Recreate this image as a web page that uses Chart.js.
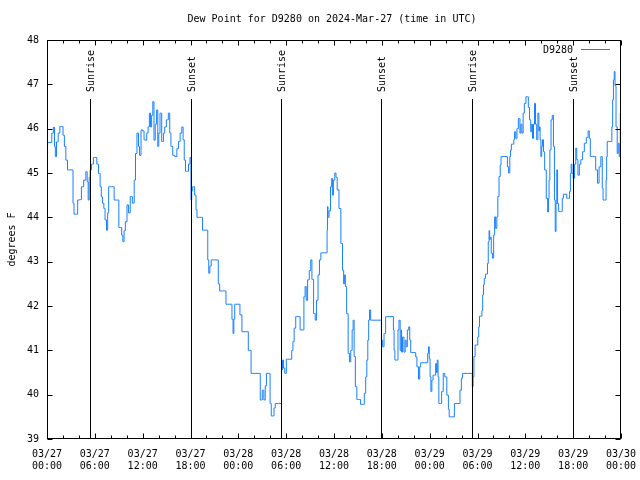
<!DOCTYPE html>
<html>
<head>
<meta charset="utf-8">
<script src="https://cdn.jsdelivr.net/npm/chart.js@4.4.1/dist/chart.umd.min.js"></script>
<style>
  html, body { margin: 0; padding: 0; background: #fff; }
  canvas { display: block; }
</style>
</head>
<body>
<canvas id="dewChart" width="640" height="480"></canvas>
<script>
// Horas desde 03/27 00:00 UTC
const hours = [
  0.0, 0.5, 0.7, 0.88, 1.0, 1.09, 1.3, 1.5, 1.72, 1.92, 2.1, 2.26, 2.47, 2.68, 3.18, 3.35, 3.43, 3.72, 3.97, 4.2,
  4.43, 4.77, 4.98, 5.1, 5.23, 5.35, 5.48, 5.7, 5.94, 6.15, 6.35, 6.56, 6.77, 6.85, 7.06, 7.2, 7.36, 7.57, 7.65, 7.82,
  8.32, 8.53, 8.95, 9.07, 9.28, 9.45, 9.58, 9.75, 9.91, 10.16, 10.3, 10.58, 10.83, 11.04, 11.16, 11.41, 11.55, 11.67, 11.92, 12.1,
  12.25, 12.42, 12.6, 12.76, 12.92, 13.05, 13.2, 13.34, 13.5, 13.65, 13.84, 13.95, 14.09, 14.26, 14.51, 14.7, 14.84, 15.1, 15.34, 15.45,
  15.64, 15.9, 16.18, 16.4, 16.6, 16.8, 17.02, 17.12, 17.31, 17.44, 17.65, 17.85, 18.02, 18.1, 18.2, 18.35, 18.44, 18.6, 18.78, 18.85,
  19.4, 19.6, 20.1, 20.23, 20.35, 20.5, 20.7, 21.36, 21.61, 21.7, 22.3, 22.6, 23.1, 23.3, 23.37, 23.5, 23.6, 24.1, 24.3, 24.6,
  25.1, 25.4, 25.8, 26.6, 26.9, 27.1, 27.3, 27.45, 27.6, 27.9, 28.06, 28.2, 28.4, 28.55, 28.7, 29.35, 29.48, 29.6, 29.75, 29.9,
  30.14, 30.6, 30.8, 30.9, 31.1, 31.3, 31.65, 31.85, 32.15, 32.3, 32.45, 32.58, 32.8, 33.0, 33.16, 33.3, 33.58, 33.7, 33.9, 34.1,
  34.25, 34.45, 35.1, 35.16, 35.2, 35.3, 35.45, 35.67, 35.75, 35.85, 36.0, 36.2, 36.3, 36.5, 36.75, 36.97, 37.17, 37.25, 37.35, 37.5,
  37.67, 37.88, 38.0, 38.2, 38.35, 38.45, 38.6, 38.76, 38.97, 39.17, 39.5, 39.7, 39.9, 40.05, 40.18, 40.3, 40.4, 40.5, 40.7, 41.9,
  42.0, 42.2, 42.35, 42.6, 43.4, 43.5, 43.57, 43.7, 43.95, 44.1, 44.2, 44.4, 44.45, 44.5, 44.7, 44.85, 45.0, 45.1, 45.3, 45.45,
  45.55, 45.7, 46.2, 46.3, 46.5, 46.7, 46.8, 46.95, 47.7, 47.8, 47.9, 48.0, 48.1, 48.2, 48.35, 48.5, 48.7, 48.8, 48.9, 49.0,
  49.1, 49.2, 49.4, 49.6, 49.8, 50.0, 50.3, 50.4, 50.5, 51.0, 51.2, 51.7, 51.9, 52.05, 52.2, 53.3, 53.4, 53.5, 53.6, 53.8,
  53.97, 54.1, 54.2, 54.3, 54.5, 54.6, 54.7, 54.8, 54.9, 55.1, 55.2, 55.3, 55.4, 55.5, 55.55, 55.65, 55.8, 55.95, 56.1, 56.2,
  56.35, 56.5, 56.6, 56.8, 56.9, 57.0, 57.7, 57.8, 58.0, 58.1, 58.2, 58.3, 58.5, 58.6, 58.7, 58.9, 59.0, 59.25, 59.4, 59.5,
  59.65, 59.8, 59.95, 60.2, 60.3, 60.45, 60.6, 60.75, 60.85, 60.95, 61.1, 61.2, 61.35, 61.5, 61.65, 61.75, 61.8, 61.9, 62.0, 62.1,
  62.2, 62.35, 62.5, 62.75, 62.85, 62.95, 63.0, 63.15, 63.3, 63.45, 63.6, 63.7, 63.8, 63.9, 63.99, 64.1, 64.26, 64.56, 64.7, 64.85,
  65.1, 65.3, 65.5, 65.6, 65.7, 65.8, 65.9, 66.1, 66.25, 66.4, 66.5, 66.7, 66.85, 67.07, 67.3, 67.5, 67.8, 67.95, 68.1, 68.2,
  68.7, 68.95, 69.15, 69.35, 69.6, 69.7, 69.8, 70.1, 70.15, 70.25, 70.3, 70.8, 70.9, 71.0, 71.1, 71.2, 71.3, 71.45, 71.6, 71.7,
  71.85, 71.97
];

// Ponto de orvalho (F)
const dewPoint = [
  45.69, 45.69, 45.9, 46.03, 45.6, 45.37, 45.7, 45.9, 46.05, 46.05, 45.85, 45.6, 45.29, 45.07, 45.07, 44.32, 44.07, 44.07, 44.39, 44.4,
  44.69, 44.84, 45.03, 44.8, 44.39, 44.9, 45.07, 45.2, 45.35, 45.35, 45.2, 44.99, 44.69, 44.46, 44.32, 44.2, 43.94, 43.71, 44.1, 44.69,
  44.69, 44.39, 44.39, 43.77, 43.77, 43.6, 43.45, 43.7, 43.9, 44.28, 44.1, 44.47, 44.32, 44.84, 45.44, 45.9, 45.6, 45.4, 45.97, 45.95,
  45.75, 45.74, 45.9, 46.04, 46.35, 46.04, 46.3, 46.61, 45.74, 46.1, 46.42, 45.6, 45.9, 46.35, 45.71, 45.9, 46.04, 46.2, 46.35, 45.9,
  45.6, 45.4, 45.37, 45.55, 45.71, 45.9, 46.04, 45.75, 45.29, 45.04, 45.04, 45.2, 45.35, 44.39, 44.6, 44.69, 44.69, 44.5, 44.17, 44.0,
  44.0, 43.71, 43.71, 43.04, 42.74, 42.9, 43.04, 43.04, 42.5, 42.34, 42.34, 42.04, 42.04, 41.7, 41.38, 41.7, 42.04, 42.04, 41.8, 41.42,
  41.42, 41.0, 40.48, 40.48, 39.88, 40.1, 39.88, 40.2, 40.48, 40.48, 39.8, 39.52, 39.52, 39.7, 39.8, 39.8, 40.56, 40.78, 40.6, 40.48,
  40.8, 40.8, 41.0, 41.2, 41.5, 41.76, 41.76, 41.46, 41.46, 42.21, 42.44, 42.13, 42.59, 42.8, 43.04, 42.6, 41.83, 41.68, 42.13, 42.7,
  43.04, 43.2, 43.2, 43.71, 44.24, 44.0, 44.15, 44.69, 44.88, 44.5, 44.84, 45.0, 44.9, 44.62, 44.2, 43.41, 42.81, 42.5, 42.7, 42.44,
  41.83, 40.93, 40.74, 41.0, 41.46, 41.68, 40.86, 40.18, 39.89, 39.89, 39.78, 39.78, 40.03, 40.4, 40.78, 41.23, 41.68, 41.91, 41.68, 41.68,
  41.23, 41.08, 41.38, 41.76, 41.76, 41.46, 41.0, 40.78, 40.78, 41.46, 41.68, 41.0, 41.46, 40.96, 41.3, 40.96, 41.23, 41.08, 41.46, 41.53,
  41.23, 40.95, 40.95, 40.85, 40.63, 40.35, 40.63, 40.72, 40.72, 40.93, 41.08, 40.81, 40.4, 40.07, 40.33, 40.44, 40.44, 40.7, 40.5, 40.78,
  40.4, 39.8, 39.8, 40.07, 40.48, 40.4, 39.99, 39.67, 39.5, 39.5, 39.8, 39.8, 40.1, 40.37, 40.48, 40.48, 40.18, 40.4, 40.86, 41.12,
  41.12, 41.3, 41.53, 41.77, 41.77, 41.9, 42.25, 42.48, 42.62, 42.72, 42.72, 42.96, 43.45, 43.7, 43.5, 43.55, 43.19, 43.08, 43.6, 44.01,
  43.75, 44.01, 44.47, 44.92, 45.18, 45.37, 45.37, 45.14, 45.0, 45.37, 45.52, 45.65, 45.65, 45.75, 45.93, 45.78, 46.0, 46.23, 45.9, 46.1,
  45.9, 46.35, 46.57, 46.72, 46.72, 46.48, 46.2, 45.93, 46.1, 45.78, 46.1, 46.57, 46.1, 45.75, 46.35, 45.95, 46.04, 45.75, 45.37, 45.6,
  45.75, 45.48, 45.07, 44.43, 44.12, 44.43, 44.84, 45.52, 46.2, 46.3, 45.6, 44.39, 43.68, 44.31, 45.07, 44.31, 44.13, 44.13, 44.43, 44.52,
  44.52, 44.43, 44.43, 44.58, 44.99, 45.2, 44.99, 44.88, 45.2, 45.56, 45.3, 44.95, 45.2, 45.3, 45.48, 45.67, 45.8, 45.95, 45.78, 45.37,
  45.37, 45.07, 44.77, 45.14, 45.37, 44.66, 44.39, 44.39, 44.84, 45.37, 45.71, 45.71, 46.04, 46.65, 47.1, 47.29, 46.97, 46.04, 45.44, 45.67,
  45.37, 46.35
];

// Nascer / pôr do sol (horas desde 03/27 00:00)
const eventNames = ['Sunrise', 'Sunset', 'Sunrise', 'Sunset', 'Sunrise', 'Sunset'];
const eventHours = [5.39, 18.03, 29.39, 41.93, 53.35, 66.02];

// Rótulos do eixo X (a cada 6 horas)
const xTickLabels = [
  ['03/27', '00:00'], ['03/27', '06:00'], ['03/27', '12:00'], ['03/27', '18:00'],
  ['03/28', '00:00'], ['03/28', '06:00'], ['03/28', '12:00'], ['03/28', '18:00'],
  ['03/29', '00:00'], ['03/29', '06:00'], ['03/29', '12:00'], ['03/29', '18:00'],
  ['03/30', '00:00']
];
const yTicks = [39, 40, 41, 42, 43, 44, 45, 46, 47, 48];

const seriesName = 'D9280';
const titleText = 'Dew Point for D9280 on 2024-Mar-27 (time in UTC)';
const lineColor = 'rgb(24,128,255)';
const mono = 'DejaVu Sans Mono';

// Moldura, marcas dos eixos, linhas de nascer/pôr do sol, legenda e título
const gnuplotLook = {
  id: 'gnuplotLook',
  afterDatasetsDraw(chart) {
    const { ctx, chartArea: a, scales } = chart;
    const xs = scales.x, ys = scales.y;
    const L = Math.round(a.left) + 0.5, R = Math.round(a.right) - 0.5;
    const T = Math.round(a.top) + 0.5, B = Math.round(a.bottom) - 0.5;
    ctx.save();
    ctx.strokeStyle = '#000';
    ctx.lineWidth = 1;

    // linhas verticais dos eventos
    eventHours.forEach(h => {
      const px = Math.round(xs.getPixelForValue(h)) + 0.5;
      const top = ys.getPixelForValue(46.67);
      ctx.beginPath();
      ctx.moveTo(px, B);
      ctx.lineTo(px, top);
      ctx.stroke();
    });

    // moldura
    ctx.strokeRect(L, T, R - L, B - T);

    // marcas do eixo Y (esquerda e direita)
    ctx.beginPath();
    yTicks.forEach(v => {
      const py = Math.round(ys.getPixelForValue(v)) + 0.5;
      ctx.moveTo(L, py); ctx.lineTo(L + 5, py);
      ctx.moveTo(R, py); ctx.lineTo(R - 5, py);
    });
    // marcas do eixo X: maiores a cada 6h, menores a cada 2h
    for (let h = 0; h <= 72; h += 2) {
      const px = Math.round(xs.getPixelForValue(h)) + 0.5;
      const len = h % 6 === 0 ? 5 : 3;
      ctx.moveTo(px, B); ctx.lineTo(px, B - len);
      ctx.moveTo(px, T); ctx.lineTo(px, T + len);
    }
    ctx.stroke();

    // textos dos eventos
    ctx.fillStyle = '#000';
    ctx.font = '10px "' + mono + '"';
    ctx.textAlign = 'left';
    ctx.textBaseline = 'middle';
    eventHours.forEach((h, i) => {
      const px = xs.getPixelForValue(h) + 1.5;
      ctx.save();
      ctx.translate(px, 92);
      ctx.rotate(-Math.PI / 2);
      ctx.fillText(eventNames[i], 0, 0);
      ctx.restore();
    });

    // legenda
    ctx.textAlign = 'right';
    ctx.fillText(seriesName, 573, 50);
    ctx.strokeStyle = lineColor;
    ctx.beginPath();
    ctx.moveTo(581, 49.5);
    ctx.lineTo(610, 49.5);
    ctx.stroke();

    // título
    ctx.textAlign = 'center';
    ctx.fillText(titleText, 332, 19);
    ctx.restore();
  }
};

const ctx = document.getElementById('dewChart').getContext('2d');

new Chart(ctx, {
  type: 'line',
  data: {
    datasets: [{
      label: seriesName,
      data: hours.map((h, i) => ({ x: h, y: dewPoint[i] })),
      borderColor: lineColor,
      borderWidth: 1,
      pointRadius: 0,
      stepped: 'middle',
      fill: false
    }]
  },
  options: {
    responsive: false,
    animation: false,
    devicePixelRatio: 1,
    layout: { padding: { top: 40, right: 19, left: 0, bottom: 0 } },
    plugins: {
      legend: { display: false },
      title: { display: false },
      tooltip: { enabled: false }
    },
    scales: {
      x: {
        type: 'linear',
        min: 0,
        max: 72,
        grid: { display: false, drawTicks: false },
        border: { display: false },
        ticks: {
          stepSize: 6,
          autoSkip: false,
          maxRotation: 0,
          padding: 9,
          color: '#000',
          font: { family: mono, size: 10 },
          callback: v => xTickLabels[v / 6]
        },
        afterFit: s => { s.height = 41; s.paddingLeft = 0; s.paddingRight = 0; }
      },
      y: {
        min: 39,
        max: 48,
        grid: { display: false, drawTicks: false },
        border: { display: false },
        ticks: {
          stepSize: 1,
          padding: 8,
          color: '#000',
          font: { family: mono, size: 10 }
        },
        title: {
          display: true,
          text: 'degrees F',
          color: '#000',
          padding: { top: 6, bottom: 0 },
          font: { family: mono, size: 10 }
        },
        afterFit: s => { s.width = 47; s.paddingTop = 0; s.paddingBottom = 0; }
      }
    }
  },
  plugins: [gnuplotLook]
});
</script>
</body>
</html>
